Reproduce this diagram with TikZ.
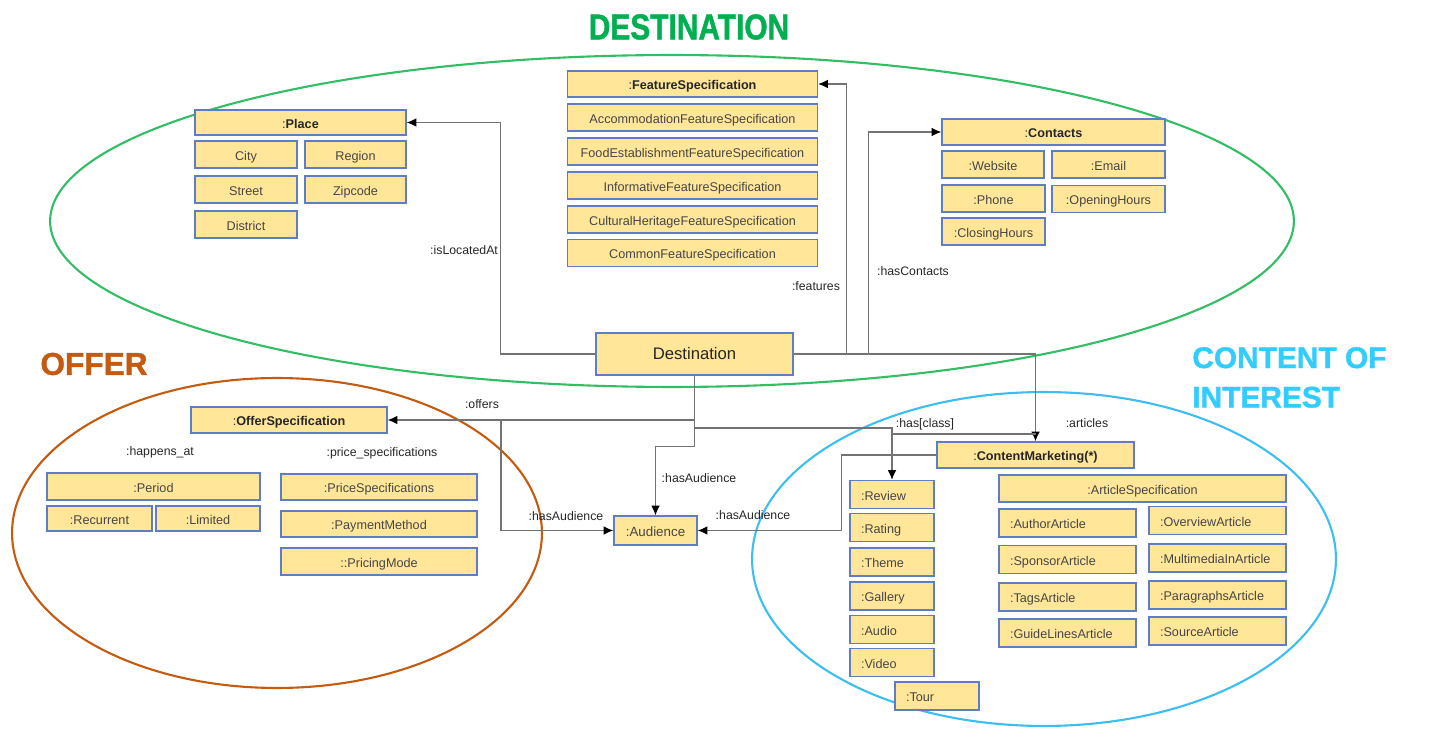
\documentclass[tikz,border=0pt]{standalone}
\usepackage{fontspec}
\setmainfont{Liberation Sans}
\newfontfamily\titlefont[FakeStretch=0.83, BoldFeatures={FakeBold=1.2}]{Liberation Sans}
\newfontfamily\heavyfont[BoldFeatures={FakeBold=1.2}]{Liberation Sans}
\usetikzlibrary{arrows.meta}
\definecolor{cellfill}{RGB}{255,230,153}
\definecolor{cellline}{RGB}{95,125,195}
\definecolor{celltext}{RGB}{70,70,70}
\definecolor{linkgray}{RGB}{115,115,115}
\definecolor{destgreen}{RGB}{0,176,80}
\definecolor{destring}{RGB}{50,190,100}
\definecolor{offerorange}{RGB}{197,90,17}
\definecolor{interestblue}{RGB}{51,204,255}
\definecolor{interestring}{RGB}{60,190,240}
\tikzset{
  cell/.style={draw=cellline, fill=cellfill, line width=0.8pt, text=celltext,
    font=\fontsize{7.2}{8}\selectfont, inner sep=0pt, minimum height=0.54cm,
    text height=1.55ex, text depth=0.35ex},
  wd/.style={minimum width=#1*0.02cm},
  ht/.style={minimum height=#1*0.02cm},
  lcell/.style={cell, text width=#1, align=left, inner xsep=0.22cm},
  head/.style={cell, text=black!85, font=\fontsize{7.2}{8}\selectfont},
  link/.style={draw=linkgray, line width=0.8pt},
  arr/.style={link, -{Latex[color=black, length=5.5pt, width=5pt]}},
  rel/.style={font=\fontsize{7}{8}\selectfont, text=black!85, inner sep=1pt},
  ring/.style={line width=1.2pt},
}
\begin{document}
\begin{tikzpicture}[x=0.02cm, y=-0.02cm]
\useasboundingbox (0,0) rectangle (1433,739);
% Group rings
\draw[ring, draw=destring] (672,221) ellipse [x radius=12.44cm, y radius=3.32cm];
\draw[ring, draw=offerorange] (277,533) ellipse [x radius=5.3cm, y radius=3.1cm];
\draw[ring, draw=interestring] (1044,559) ellipse [x radius=5.84cm, y radius=3.34cm];
% Group titles
\node[text=destgreen, font=\titlefont\bfseries\fontsize{20.5}{24}\selectfont] (desttitle) at (689,27) {DESTINATION};
\node[text=offerorange, font=\heavyfont\bfseries\fontsize{18}{20}\selectfont] (offertitle) at (94,364) {OFFER};
\node[text=interestblue, anchor=west, align=left, inner sep=0pt,
  font=\heavyfont\bfseries\fontsize{17}{22.5}\selectfont] (cointitle) at (1192,377.5) {CONTENT OF\\INTEREST};
% Place
\node[head, wd=211, ht=25] (place) at (300.5,122.5) {:\textbf{Place}};
\node[cell, wd=102] (city) at (246,154.5) {City};
\node[cell, wd=101] (region) at (355.5,154.5) {Region};
\node[cell, wd=102] (street) at (246,189.5) {Street};
\node[cell, wd=101] (zipcode) at (355.5,189.5) {Zipcode};
\node[cell, wd=102] (district) at (246,224.5) {District};
% Features
\node[head, wd=250, ht=26] (featspec) at (692.5,84) {:\textbf{FeatureSpecification}};
\foreach \name/\y in {Accommodation/117.5, FoodEstablishment/151.5, Informative/185.5, CulturalHeritage/219.5, Common/253}
  \node[cell, wd=250] (\name) at (692.5,\y) {\name FeatureSpecification};
% Contacts
\node[head, wd=223, ht=26] (contacts) at (1053.5,132) {:\textbf{Contacts}};
\node[cell, wd=102] (website) at (993,164.5) {:Website};
\node[cell, wd=113] (email) at (1108.5,164.5) {:Email};
\node[cell, wd=103] (phone) at (993.5,198.5) {:Phone};
\node[cell, wd=113] (opening) at (1108.5,199) {:OpeningHours};
\node[cell, wd=103] (closing) at (993.5,231.5) {:ClosingHours};
% Destination and audience
\node[cell, wd=197, ht=42, text=black!85, font=\fontsize{9.5}{11}\selectfont] (dest) at (694.5,354) {Destination};
\node[cell, wd=83, ht=29, font=\fontsize{7.6}{9}\selectfont] (aud) at (655.5,530.5) {:Audience};
% Offer
\node[head, wd=196, ht=26] (offer) at (289,420) {:\textbf{OfferSpecification}};
\node[rel] (happens) at (160,452) {:happens\_at};
\node[rel] (pricespecs) at (382,453) {:price\_specifications};
\node[cell, wd=213] (period) at (153.5,486.5) {:Period};
\node[cell, wd=105, ht=25] (recurrent) at (99.5,518.5) {:Recurrent};
\node[cell, wd=104, ht=25] (limited) at (208,518.5) {:Limited};
\node[cell, wd=196, ht=26] (pricespec) at (379,487) {:PriceSpecifications};
\node[cell, wd=196, ht=26] (payment) at (379,524) {:PaymentMethod};
\node[cell, wd=196] (pricing) at (379,561.5) {::PricingMode};
% Content of interest
\node[head, wd=197, ht=26] (cm) at (1035.5,455) {:\textbf{ContentMarketing(*)}};
\foreach \name/\y in {Review/494.5, Rating/527.5, Theme/562, Gallery/596, Audio/629.5, Video/662.5}
  \node[lcell=1.24cm, ht=28] (\name) at (892,\y) {:\name};
\node[lcell=1.24cm, ht=28] (Tour) at (937,696) {:Tour};
\node[cell, wd=287] (artspec) at (1142.5,488.5) {:ArticleSpecification};
\foreach \name/\y in {Author/523, Sponsor/559.5, Tags/597, GuideLines/633}
  \node[lcell=2.3cm, ht=28] (\name) at (1067.5,\y) {:\name Article};
\foreach \name/\y in {Overview/520.5, MultimediaIn/558, Paragraphs/595, Source/631}
  \node[lcell=2.3cm, ht=28] (\name) at (1217.5,\y) {:\name Article};
% Relations
\draw[arr] (dest.west) -- ++(-95,0) |- (place.east);
\draw[arr] (dest.east) -- ++(53,0) |- (featspec.east);
\draw[arr] (dest.east) -- ++(75,0) |- (contacts.west);
\draw[arr] (dest.east) -| (cm.north);
\draw[arr] (dest.south) |- (offer.east);
\coordinate (offbr) at (501,420);
\draw[arr] (offbr) |- (aud.west);
\draw[arr] (dest.south) -- ++(0,71) -| (aud.north);
\coordinate (clsbr) at (694.5,428);
\draw[arr] (clsbr) -| (Review.north);
\coordinate (clsj) at (892,434);
\draw[link] (clsj) -- (clsj -| cm.north);
\draw[arr] (cm.west) -- ++(-95,0) |- (aud.east);
% Relation labels
\node[rel, anchor=east] (locatedat) at (500,250) {:isLocatedAt};
\node[rel, anchor=east] (features) at (842,286) {:features};
\node[rel, anchor=west] (hascontacts) at (875,271) {:hasContacts};
\node[rel] (articles) at (1087,423) {:articles};
\node[rel] (offers) at (482,404) {:offers};
\node[rel] (audleft) at (566,516) {:hasAudience};
\node[rel] (audmid) at (699,478) {:hasAudience};
\node[rel] (audright) at (753,515) {:hasAudience};
\node[rel] (hasclass) at (925,424) {:has[class]};
\end{tikzpicture}
\end{document}
